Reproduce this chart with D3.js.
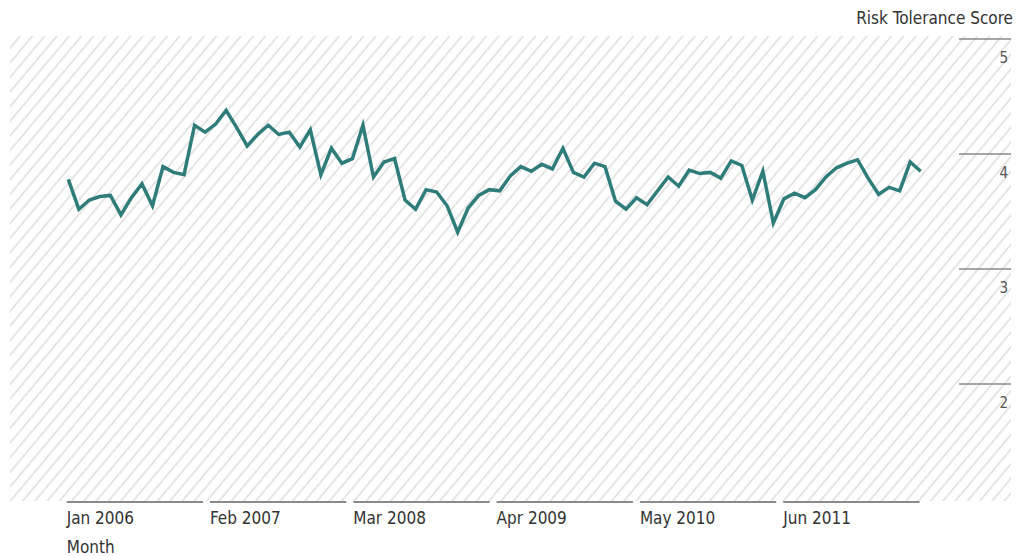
<!DOCTYPE html>
<html><head><meta charset="utf-8">
<script src="https://cdn.jsdelivr.net/npm/d3@7"></script>
<style>
body{margin:0;background:#fff}
svg{display:block}
text{font-family:"Liberation Sans Narrow","DejaVu Sans Condensed","Roboto Condensed","Arial Narrow",sans-serif}
</style>
</head><body>
<svg id="chart" width="1025" height="556"></svg>
<script>
// Monthly average risk tolerance score
const scores = [
  3.78, 3.52, 3.60, 3.63, 3.64, 3.47, 3.62, 3.74, 3.55, 3.89,
  3.84, 3.82, 4.25, 4.19, 4.26, 4.38, 4.23, 4.07, 4.17, 4.25,
  4.17, 4.19, 4.06, 4.21, 3.82, 4.05, 3.92, 3.96, 4.25, 3.80,
  3.93, 3.96, 3.60, 3.52, 3.69, 3.67, 3.55, 3.32, 3.53, 3.64,
  3.69, 3.68, 3.81, 3.89, 3.85, 3.91, 3.87, 4.05, 3.84, 3.80,
  3.92, 3.89, 3.59, 3.52, 3.62, 3.56, 3.68, 3.80, 3.72, 3.86,
  3.83, 3.84, 3.79, 3.94, 3.90, 3.60, 3.85, 3.40, 3.61, 3.66,
  3.62, 3.69, 3.80, 3.88, 3.92, 3.95, 3.79, 3.65, 3.71, 3.68,
  3.93, 3.85
];
const xTickLabels = ["Jan 2006", "Feb 2007", "Mar 2008", "Apr 2009", "May 2010", "Jun 2011"];
const yTickValues = [2, 3, 4, 5];
const yTitle = "Risk Tolerance Score";
const xTitle = "Month";

const svg = d3.select("#chart");

const x = d3.scalePoint().domain(d3.range(scores.length)).range([68.3, 920.7]);
const xBand = d3.scaleBand().domain(xTickLabels).range([66.7, 66.7 + 143.3 * xTickLabels.length]);
const y = d3.scaleLinear().domain([1, 5]).range([499, 39]);

// hatch pattern
const defs = svg.append("defs");
const pat = defs.append("pattern")
  .attr("id", "hatch")
  .attr("patternUnits", "userSpaceOnUse")
  .attr("width", 9.4).attr("height", 9.4)
  .attr("patternTransform", "rotate(40)");
pat.append("line")
  .attr("x1", 1).attr("y1", -1).attr("x2", 1).attr("y2", 11)
  .attr("stroke", "#dedede").attr("stroke-width", 1.5);

svg.append("rect")
  .attr("x", 10).attr("y", 36)
  .attr("width", 1001).attr("height", 465)
  .attr("fill", "url(#hatch)");

// y axis (right side)
const yg = svg.append("g");
yg.selectAll("line.yt").data(yTickValues).join("line")
  .attr("class", "yt")
  .attr("x1", 959).attr("x2", 1011)
  .attr("y1", d => y(d)).attr("y2", d => y(d))
  .attr("stroke", "#8a8a8a").attr("stroke-width", 1.5);
yg.selectAll("text.yl").data(yTickValues).join("text")
  .attr("class", "yl")
  .attr("x", 1008).attr("y", d => y(d) + 24)
  .attr("text-anchor", "end")
  .attr("font-size", 15)
  .attr("fill", "#555")
  .text(d => d);

svg.append("text")
  .attr("x", 1013).attr("y", 24)
  .attr("text-anchor", "end")
  .attr("font-size", 17)
  .attr("fill", "#333")
  .text(yTitle);

// x axis segments
const xg = svg.append("g");
xg.selectAll("line.xs").data(xTickLabels).join("line")
  .attr("class", "xs")
  .attr("x1", d => xBand(d))
  .attr("x2", d => xBand(d) + xBand.bandwidth() - 7)
  .attr("y1", 502).attr("y2", 502)
  .attr("stroke", "#8a8a8a").attr("stroke-width", 2);
xg.selectAll("text.xl").data(xTickLabels).join("text")
  .attr("class", "xl")
  .attr("x", d => xBand(d)).attr("y", 524)
  .attr("font-size", 17)
  .attr("fill", "#333")
  .text(d => d);

svg.append("text")
  .attr("x", 66.7).attr("y", 553)
  .attr("font-size", 17)
  .attr("fill", "#333")
  .text(xTitle);

// line
const line = d3.line().x((d, i) => x(i)).y(d => y(d));
svg.append("path")
  .datum(scores)
  .attr("d", line)
  .attr("fill", "none")
  .attr("stroke", "#2f7d7a")
  .attr("stroke-width", 3.5)
  .attr("stroke-linejoin", "miter");
</script>
</body></html>
